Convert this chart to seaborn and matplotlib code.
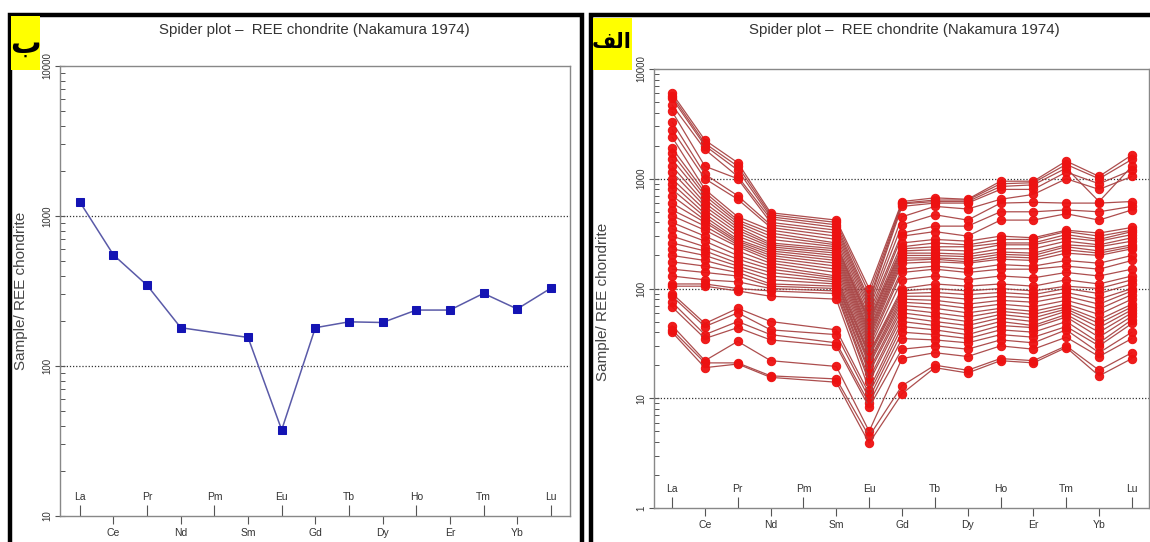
import numpy as np
import pandas as pd
import matplotlib
matplotlib.use('Agg')
import matplotlib.pyplot as plt
import matplotlib.ticker as mticker
from matplotlib.patches import Rectangle
import seaborn as sns

# Set visualization style
sns.set_style('white')
plt.rcParams['font.family'] = ['Liberation Sans', 'DejaVu Sans']

# REE order on the x axis (Pm has no measured value)
elements = ['La', 'Ce', 'Pr', 'Nd', 'Pm', 'Sm', 'Eu', 'Gd', 'Tb', 'Dy', 'Ho', 'Er', 'Tm', 'Yb', 'Lu']
measured = ['La', 'Ce', 'Pr', 'Nd', 'Sm', 'Eu', 'Gd', 'Tb', 'Dy', 'Ho', 'Er', 'Tm', 'Yb', 'Lu']

# Panel b: a single sample
sample_b = [1240, 550, 345, 180, 155, 37.5, 180, 197, 195, 236, 236, 305, 240, 330]

# Panel alef: many samples
s01 = [6000, 2250, 1400, 490, 420, 100, 620, 670, 650, 950, 950, 1450, 1050, 1650]
s02 = [5700, 2100, 1300, 470, 400, 90, 600, 640, 640, 900, 920, 1350, 1000, 1500]
s03 = [5400, 2000, 1200, 450, 380, 80, 590, 620, 620, 850, 880, 1250, 620, 1300]
s04 = [4700, 1850, 1050, 430, 360, 75, 560, 600, 600, 800, 800, 1150, 900, 1200]
s05 = [4100, 1300, 1000, 400, 340, 70, 450, 560, 530, 650, 720, 1000, 800, 1050]
s06 = [3300, 1100, 700, 380, 320, 65, 380, 470, 420, 600, 610, 600, 600, 620]
s07 = [2800, 1000, 650, 360, 300, 60, 320, 370, 370, 500, 500, 520, 500, 560]
s08 = [2400, 800, 450, 340, 280, 55, 300, 330, 300, 420, 420, 480, 420, 520]
s09 = [1900, 750, 420, 320, 260, 52, 260, 280, 270, 300, 290, 340, 320, 360]
s10 = [1700, 700, 400, 300, 250, 50, 240, 260, 250, 280, 280, 330, 300, 340]
s11 = [1500, 650, 380, 280, 240, 48, 230, 240, 240, 260, 260, 310, 280, 330]
s12 = [1300, 600, 360, 260, 230, 45, 220, 225, 220, 250, 250, 290, 270, 310]
s13 = [1150, 560, 340, 250, 220, 42, 210, 210, 205, 230, 230, 270, 250, 290]
s14 = [1000, 520, 320, 240, 210, 40, 200, 200, 195, 215, 210, 250, 240, 270]
s15 = [900, 480, 300, 230, 200, 38, 190, 190, 185, 205, 200, 240, 220, 250]
s16 = [800, 450, 280, 220, 190, 36, 180, 185, 175, 195, 190, 225, 210, 240]
s17 = [700, 420, 270, 210, 180, 34, 170, 175, 170, 185, 180, 210, 200, 230]
s18 = [600, 400, 260, 200, 170, 32, 150, 160, 150, 165, 160, 180, 170, 200]
s19 = [520, 370, 250, 190, 160, 30, 140, 150, 140, 150, 150, 160, 150, 180]
s20 = [460, 340, 240, 180, 150, 28, 120, 130, 120, 130, 125, 140, 130, 150]
s21 = [400, 300, 220, 170, 140, 26, 100, 110, 105, 110, 105, 120, 110, 130]
s22 = [350, 270, 200, 160, 130, 25, 95, 100, 95, 100, 95, 105, 100, 120]
s23 = [300, 240, 185, 150, 125, 24, 90, 92, 88, 92, 88, 100, 90, 110]
s24 = [260, 220, 170, 140, 120, 22, 85, 85, 80, 85, 82, 92, 80, 100]
s25 = [230, 200, 160, 130, 115, 21, 80, 78, 72, 78, 75, 85, 72, 95]
s26 = [200, 180, 150, 120, 110, 20, 75, 72, 66, 72, 68, 78, 65, 88]
s27 = [175, 160, 140, 110, 105, 18, 70, 66, 60, 66, 62, 72, 58, 80]
s28 = [150, 140, 130, 105, 100, 17, 65, 60, 55, 62, 58, 68, 52, 72]
s29 = [130, 120, 115, 100, 95, 15, 60, 55, 50, 58, 54, 65, 48, 68]
s30 = [110, 110, 100, 95, 90, 14, 55, 50, 46, 54, 50, 62, 44, 64]
s31 = [105, 105, 95, 85, 80, 12, 50, 46, 42, 50, 46, 58, 40, 60]
s32 = [90, 48, 66, 50, 42, 11, 45, 42, 38, 46, 44, 55, 36, 56]
s33 = [85, 45, 60, 42, 38, 10, 40, 38, 35, 42, 40, 50, 32, 52]
s34 = [75, 38, 50, 38, 32, 9, 35, 34, 32, 38, 36, 45, 30, 48]
s35 = [68, 35, 44, 34, 30, 8.3, 28, 30, 28, 34, 32, 42, 26, 40]
s36 = [46, 22, 33, 22, 19.5, 5, 23, 26, 24, 30, 28, 36, 24, 35]
s37 = [42, 21, 21, 16, 15, 4.5, 13, 20, 18, 23, 22, 30, 18, 26]
s38 = [40, 19, 20.5, 15.5, 14, 3.9, 11, 19, 17, 22, 21, 29, 16, 23]
samples_a = [s01, s02, s03, s04, s05, s06, s07, s08, s09, s10, s11, s12, s13,
             s14, s15, s16, s17, s18, s19, s20, s21, s22, s23, s24, s25, s26,
             s27, s28, s29, s30, s31, s32, s33, s34, s35, s36, s37, s38]

# Axis ticks
yticks_b = [10, 100, 1000, 10000]
ytick_labels_b = ['10', '100', '1000', '10000']
yticks_a = [1, 10, 100, 1000, 10000]
ytick_labels_a = ['1', '10', '100', '1000', '10000']

title = 'Spider plot \u2013  REE chondrite (Nakamura 1974)'
ylabel = 'Sample/ REE chondrite'

# Long tables for seaborn
pos = {el: i for i, el in enumerate(elements)}
df_b = pd.DataFrame({'pos': [pos[e] for e in measured], 'value': sample_b})
rows = []
for k, s in enumerate(samples_a):
    for e, v in zip(measured, s):
        rows.append((k, pos[e], v))
df_a = pd.DataFrame(rows, columns=['sample', 'pos', 'value'])

fig = plt.figure(figsize=(11.5, 5.42), dpi=100)
ax_b = fig.add_axes([60 / 1150, 26 / 542, 510 / 1150, 450 / 542])
ax_a = fig.add_axes([654 / 1150, 34 / 542, 495 / 1150, 439 / 542])

sns.lineplot(data=df_b, x='pos', y='value', ax=ax_b, color='#5a5aa8', lw=1.1,
             marker='s', markersize=6, markerfacecolor='#1414b4',
             markeredgecolor='#1414b4', estimator=None)
sns.lineplot(data=df_a, x='pos', y='value', units='sample', ax=ax_a,
             color='#a84444', lw=0.9, marker='o', markersize=6,
             markerfacecolor='#ee1111', markeredgecolor='#ee1111',
             estimator=None, alpha=0.95)


def style_axis(ax, ylim, ticks, labels, xlim, ylabel_x, ylabel_y):
    ax.set_yscale('log')
    ax.set_ylim(*ylim)
    ax.set_xlim(*xlim)
    ax.set_yticks(ticks)
    ax.set_yticklabels(labels)
    ax.yaxis.set_minor_locator(mticker.LogLocator(base=10, subs=np.arange(2, 10)))
    ax.yaxis.set_minor_formatter(mticker.NullFormatter())
    ax.tick_params(which='both', left=True, bottom=True)
    ax.tick_params(axis='y', which='major', direction='inout', length=7, width=0.8,
                   color='#555555', labelsize=7, labelcolor='#333333', pad=2)
    for lab in ax.get_yticklabels():
        lab.set_rotation(90)
        lab.set_va('center')
    ax.tick_params(axis='y', which='minor', direction='in', length=3.5, width=0.7,
                   color='#555555')
    # alternating element labels: odd below the axis, even inside above it
    ax.set_xticks([i for i in range(len(elements)) if i % 2 == 1])
    ax.set_xticklabels([e for i, e in enumerate(elements) if i % 2 == 1])
    ax.set_xticks([i for i in range(len(elements)) if i % 2 == 0], minor=True)
    ax.set_xticklabels([e for i, e in enumerate(elements) if i % 2 == 0], minor=True)
    ax.tick_params(axis='x', which='major', direction='out', length=6, width=0.8,
                   color='#555555', labelsize=7.5, labelcolor='#333333', pad=3)
    ax.tick_params(axis='x', which='minor', direction='in', length=8, width=0.8,
                   color='#555555', labelsize=7.5, labelcolor='#333333', pad=-17)
    ax.grid(False)
    for t in ticks[1:-1]:
        ax.axhline(t, color='#333333', lw=0.9, ls=(0, (1, 1.5)), zorder=0)
    for sp in ax.spines.values():
        sp.set_color('#888888')
        sp.set_linewidth(1.0)
    ax.set_xlabel('')
    ax.set_ylabel(ylabel, fontsize=11, color='#444444')
    ax.yaxis.set_label_coords(ylabel_x, ylabel_y)


style_axis(ax_b, (10, 10000), yticks_b, ytick_labels_b, (-0.59, 14.57), -0.062, 0.5)
style_axis(ax_a, (1, 10000), yticks_a, ytick_labels_a, (-0.55, 14.52), -0.088, 0.47)

# Titles
fig.text(314 / 1150, 1 - 30 / 542, title, ha='center', va='center',
         fontsize=10.8, color='#333333')
fig.text(904 / 1150, 1 - 30 / 542, title, ha='center', va='center',
         fontsize=10.8, color='#333333')

# Thick panel frames
fig.add_artist(Rectangle((10 / 1150, -0.05), 572 / 1150, 1.05 - 15 / 542,
                         transform=fig.transFigure, fill=False, ec='black', lw=3.2))
fig.add_artist(Rectangle((591 / 1150, -0.05), 580 / 1150, 1.05 - 15 / 542,
                         transform=fig.transFigure, fill=False, ec='black', lw=3.2))

# Yellow panel tags
fig.add_artist(Rectangle((11 / 1150, 1 - 70 / 542), 29 / 1150, 54 / 542,
                         transform=fig.transFigure, fc='#ffff00', ec='none'))
fig.add_artist(Rectangle((593 / 1150, 1 - 70 / 542), 39 / 1150, 52 / 542,
                         transform=fig.transFigure, fc='#ffff00', ec='none'))
fig.text(25 / 1150, 1 - 44 / 542, '\u0628', ha='center', va='center',
         fontsize=22, fontweight='bold', color='black', family=['DejaVu Sans'])
fig.text(612 / 1150, 1 - 42 / 542, '\ufed2\ufedf\ufe8d', ha='center', va='center',
         fontsize=15, fontweight='bold', color='black', family=['DejaVu Sans'])

fig.savefig('out.png', dpi=100, facecolor='white')
